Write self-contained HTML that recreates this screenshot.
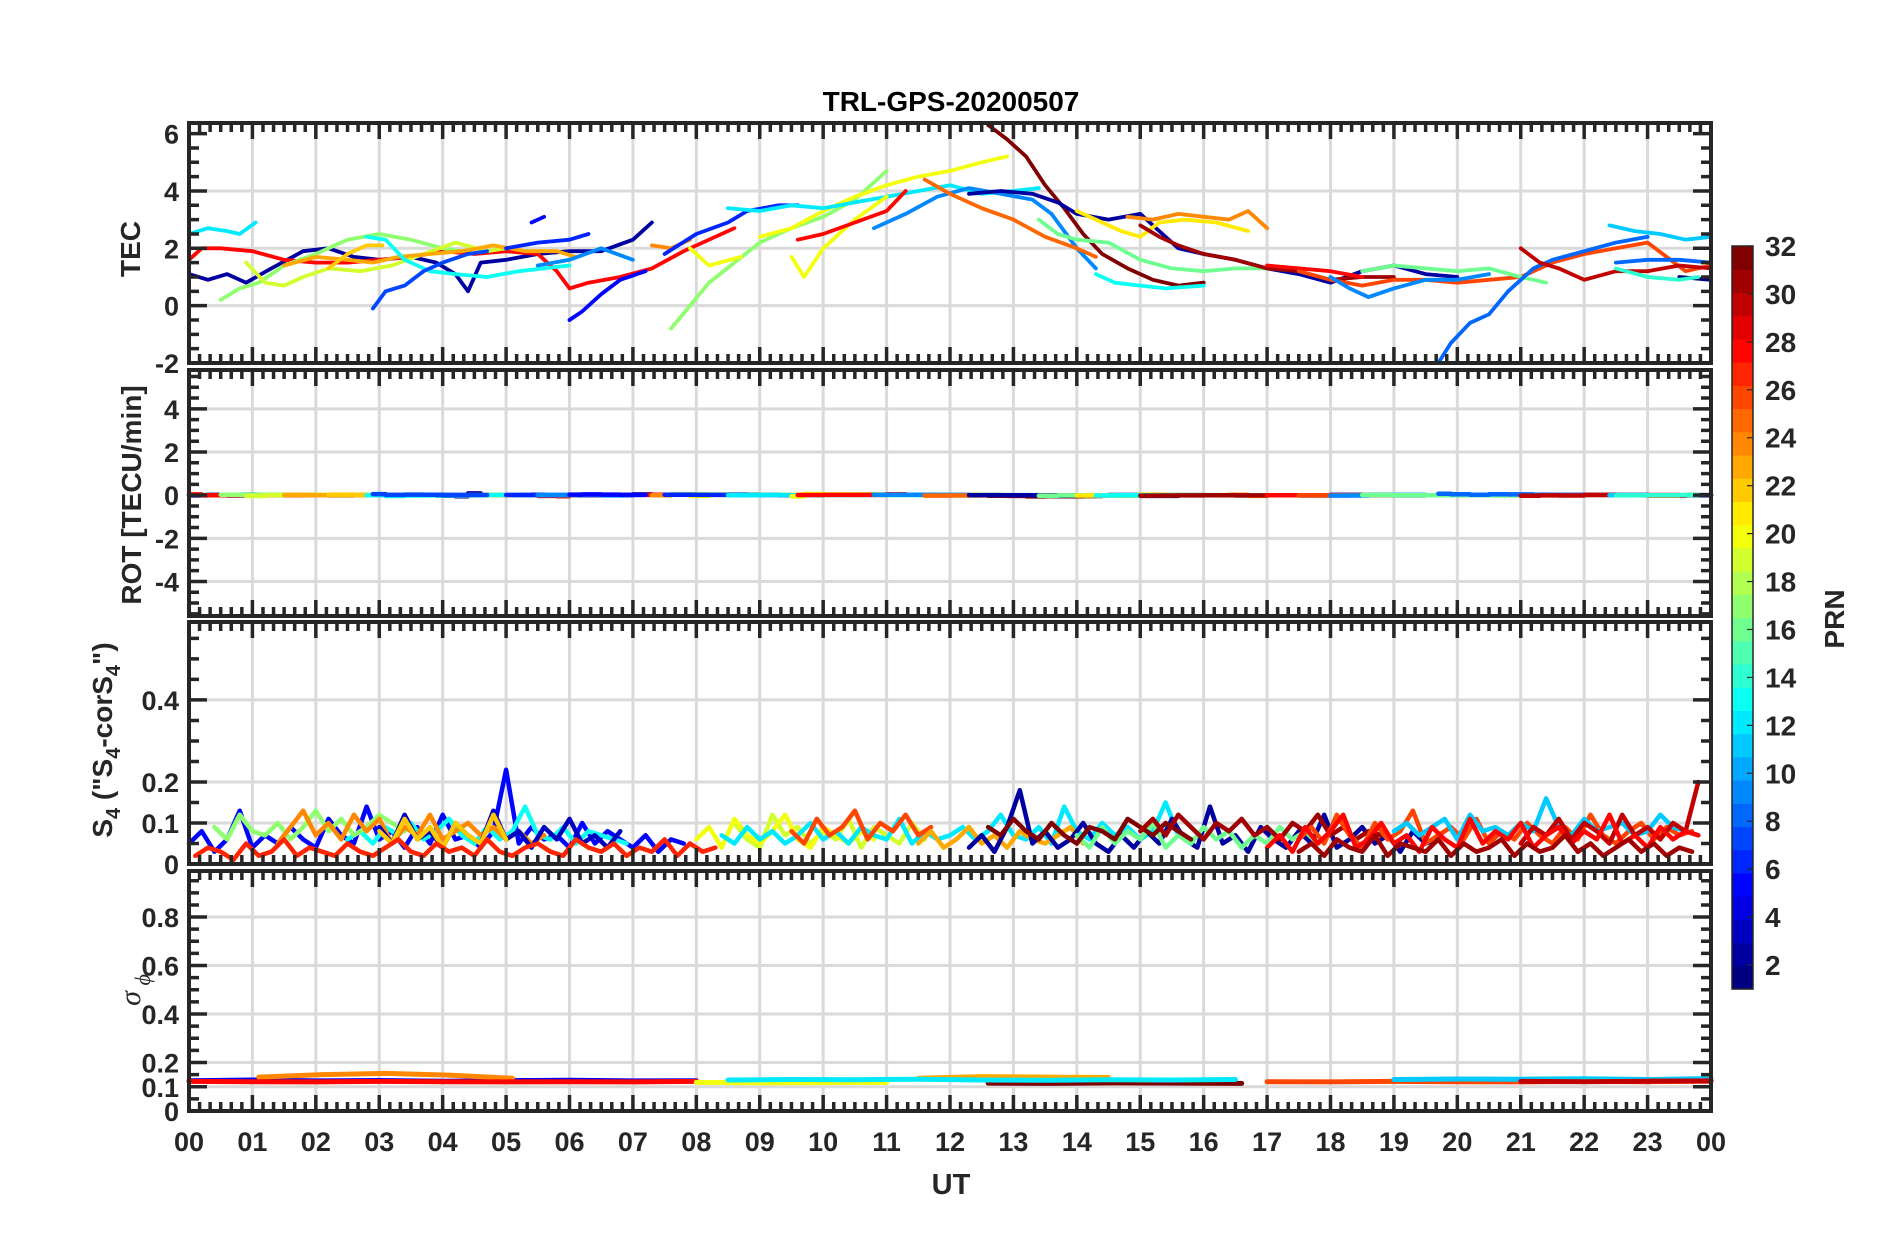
<!DOCTYPE html>
<html><head><meta charset="utf-8"><title>TRL-GPS-20200507</title>
<style>
html,body{margin:0;padding:0;background:#fff;}
svg{display:block;font-family:"Liberation Sans",Arial,sans-serif;}
</style></head>
<body>
<svg id="chart" width="1902" height="1236" viewBox="0 0 1902 1236" xmlns="http://www.w3.org/2000/svg">
<rect x="0" y="0" width="1902" height="1236" fill="#fff"/>
<text x="951" y="111" text-anchor="middle" font-size="28" font-weight="bold" fill="#000">TRL-GPS-20200507</text>
<text x="951" y="1194" text-anchor="middle" font-size="29" font-weight="bold" fill="#262626">UT</text>
<g id="panels"></g>
<g id="cbar"></g>
<text transform="translate(140,249) rotate(-90)" text-anchor="middle" font-size="28" font-weight="bold" fill="#262626">TEC</text>
<text transform="translate(141,495) rotate(-90)" text-anchor="middle" font-size="28" font-weight="bold" fill="#262626">ROT [TECU/min]</text>
<text transform="translate(112,740) rotate(-90)" text-anchor="middle" font-size="28" font-weight="bold" fill="#262626">S<tspan font-size="20" dy="8">4</tspan><tspan dy="-8"> ("S</tspan><tspan font-size="20" dy="8">4</tspan><tspan dy="-8">-corS</tspan><tspan font-size="20" dy="8">4</tspan><tspan dy="-8">")</tspan></text>
<text transform="translate(140,990) rotate(-90)" text-anchor="middle" font-size="30" font-style="italic" font-family="'Liberation Serif',serif" fill="#262626">σ<tspan font-size="22" dy="10"> ϕ</tspan></text>
<text transform="translate(1844,619) rotate(-90)" text-anchor="middle" font-size="28" font-weight="bold" fill="#262626">PRN</text>
</svg>
<script>
// ---------- data ----------
const hourTicks = ["00","01","02","03","04","05","06","07","08","09","10","11","12","13","14","15","16","17","18","19","20","21","22","23","00"];
const tecPrn = [12,2,28,17,19,23,22,13,7,5,6,9,5,24,17,20,20,6,12,20,28,9,25,32,2,16,21,24,13,31,28,26,9,16,8,30,11,8,1,14];
const tecHours = [
[0,0.3,0.6,0.8,1.05],
[0,0.3,0.6,0.9,1.3,1.8,2.2,2.6,3.0,3.5,3.9,4.2,4.4,4.6,5.0,5.5,6.0,6.5,7.0,7.3],
[0,0.2,0.5,1,1.5,2,2.5,3,3.5,4,4.5,5,5.5,5.8,6.0,6.3,6.8,7.3,7.8,8.2,8.6],
[0.5,0.8,1.1,1.5,2,2.5,3,3.5,4,4.3],
[0.9,1.2,1.5,1.8,2.2,2.7,3.2,3.7,4.2,4.7,5.0],
[1.5,2,2.5,2.9,3.3,3.8,4.3,4.8,5.3,5.8,6.1],
[2.2,2.5,2.8,3.05],
[2.8,3.1,3.4,3.8,4.2,4.7,5.2,5.6,6.0],
[2.9,3.1,3.4,3.7,4.0,4.4,4.7],
[5.4,5.6],
[5.0,5.5,6.0,6.3],
[5.5,6,6.5,7.0],
[6.0,6.2,6.5,6.8,7.2],
[7.3,7.6,7.9],
[7.6,7.9,8.2,8.6,9.0,9.5,10,10.5,11],
[7.9,8.2,8.7],
[9.0,9.5,10,10.5,11,11.5,12,12.5,12.9],
[7.5,8.0,8.5,8.8,9.3,9.6],
[8.5,9,9.5,10,10.5,11,11.5,12,12.5,13,13.4],
[9.5,9.7,10,10.5,11],
[9.6,10,10.5,11,11.3],
[10.8,11.3,11.8,12.3,12.8,13.3,13.6,14.0,14.3],
[11.6,12,12.5,13,13.5,14.0,14.3],
[12.6,12.9,13.2,13.5,13.8,14.1,14.4,14.8,15.2,15.6,16],
[12.3,12.8,13.3,13.7,14,14.5,15,15.3,15.6,16,16.5,17,17.5,18,18.5,19,19.5,20],
[13.4,13.7,14,14.5,15,15.5,16,16.5,17],
[14.0,14.3,14.7,15,15.3,15.7,16.2,16.7],
[14.8,15.2,15.6,16,16.4,16.7,17.0],
[14.3,14.6,15,15.4,16],
[15.0,15.3,15.6,16,16.5,17,17.5,18,18.5,19],
[17,17.5,18,18.5],
[17.5,18,18.5,19,19.5,20,20.5,21,21.5,22,22.5,23,23.3,23.6,24],
[18,18.3,18.6,19,19.5,20,20.5],
[18.5,19,19.5,20,20.5,21,21.4],
[19.7,19.9,20.2,20.5,20.8,21.2,21.5,22,22.5,23],
[21,21.3,21.6,22,22.5,23,23.5,24],
[22.4,22.8,23.2,23.6,24],
[22.5,23,23.5,24],
[23.5,24],
[22.5,23,23.5,23.8]
];
const tecValues = [
[2.5,2.7,2.6,2.5,2.9],
[1.1,0.9,1.1,0.8,1.3,1.9,2.0,1.7,1.6,1.7,1.5,1.1,0.5,1.5,1.6,1.8,1.9,1.9,2.3,2.9],
[1.6,2.0,2.0,1.9,1.6,1.5,1.5,1.6,1.7,1.9,1.8,1.9,1.8,1.2,0.6,0.8,1.0,1.3,1.9,2.3,2.7],
[0.2,0.6,0.8,1.4,1.8,2.3,2.5,2.3,2.0,1.9],
[1.5,0.8,0.7,1.0,1.3,1.2,1.4,1.8,2.2,1.9,2.0],
[1.4,1.7,1.6,1.5,1.7,1.8,1.9,2.1,1.9,1.9,1.7],
[1.3,1.8,2.1,2.1],
[2.4,2.3,1.6,1.2,1.1,1.0,1.2,1.3,1.4],
[-0.1,0.5,0.7,1.2,1.5,1.8,1.9],
[2.9,3.1],
[2.0,2.2,2.3,2.5],
[1.4,1.6,2.0,1.6],
[-0.5,-0.2,0.4,0.9,1.2],
[2.1,2.0,2.3],
[-0.8,0.0,0.8,1.5,2.2,2.7,3.1,3.7,4.7],
[2.0,1.4,1.7],
[2.4,2.7,3.3,3.8,4.2,4.5,4.7,5.0,5.2],
[1.8,2.5,2.9,3.3,3.5,3.5],
[3.4,3.3,3.5,3.4,3.6,3.8,4.0,4.2,3.9,4.0,4.1],
[1.7,1.0,2.0,3.0,3.8],
[2.3,2.5,2.9,3.3,4.0],
[2.7,3.2,3.8,4.1,3.9,3.7,3.2,2.0,1.3],
[4.4,3.9,3.4,3.0,2.4,2.0,1.7],
[6.3,5.8,5.2,4.2,3.4,2.5,1.8,1.3,0.9,0.7,0.8],
[3.9,4.0,3.9,3.6,3.2,3.0,3.2,2.6,2.0,1.8,1.6,1.3,1.1,0.8,1.2,1.4,1.1,1.0],
[3.0,2.5,2.3,2.2,1.6,1.3,1.2,1.3,1.3],
[3.3,3.0,2.6,2.4,2.9,3.0,2.9,2.6],
[3.1,3.0,3.2,3.1,3.0,3.3,2.7],
[1.1,0.8,0.7,0.6,0.7],
[2.8,2.4,2.1,1.8,1.6,1.3,1.2,0.9,1.0,1.0],
[1.4,1.3,1.2,1.0],
[1.2,0.9,0.7,0.9,0.9,0.8,0.9,1.0,1.5,1.8,2.0,2.2,1.7,1.2,1.4],
[1.0,0.6,0.3,0.6,0.9,0.9,1.1],
[1.2,1.4,1.3,1.2,1.3,1.0,0.8],
[-2.1,-1.3,-0.6,-0.3,0.5,1.3,1.6,1.9,2.2,2.4],
[2.0,1.5,1.3,0.9,1.2,1.2,1.4,1.3],
[2.8,2.6,2.5,2.3,2.4],
[1.5,1.6,1.6,1.5],
[1.0,0.9],
[1.3,1.0,0.9,1.0]
];
// S4 segments (values in hundredths, sampled every s4Step hours)
const s4Step = 0.2;
const s4Prn = [5,13,17,24,3,22,19,20,12,26,23,2,16,32,31,26,11,30,28,27,31];
const s4Start = [0,2.5,0.4,1.4,3,3.0,8.6,8,8.4,9.5,11.5,12.3,14,12.6,15,17.5,19,21,17,0.1,17.5];
const s4Values = [
[5,8,3,6,13,4,7,5,9,6,4,11,7,5,14,6,8,4,9,5,12,6,7,4,8,23,5,9,6,7,4,10,5,8,6,4,7,3,6,5],
[6,8,5,9,7,10,6,8,11,7,5,9,6,8,14,7,6,9,5,8,7,6,5],
[9,6,12,8,7,10,6,9,13,8,11,7,9,12,10,8],
[5,9,13,7,10,6,12,8,11,5,9,7,12,6,8,10,7,9,6,8,5,7],
[9,5,12,6,8,4,10,7,5,13,6,8,4,9,6,11,5,7,4,8],
[8,5,11,6,9,4,10,7,5,12,6],
[10,6,4,12,7,9,5,8,6,11,4,9,7,5,10,6],
[6,9,4,11,7,5,8,12,6,4,9,7,5,8,6],
[7,5,9,6,8,5,7,10,6,8,5,9,7,6,11,5,8,6,7,9,6,8,12,7,6,9,5,14,8,6,10,7,9,6,8,15,7,6],
[8,5,11,7,9,13,6,10,8,12,7,9],
[5,8,4,6,9,5,7,4,8,6,5,7,9,5],
[4,7,3,9,18,5,8,4,6,10,5,3,7,4,8,5,11,6,4,14,5,7,3,9,6,4,8,5,12,4,6,9,5,7,3,8,5,6],
[7,4,9,5,8,6,10,4,7,5,9,6,8,4,7,5,9,6,8,5],
[9,7,11,8,6,10,7,5,9,8,6,11,9,7,10,8,6],
[8,11,7,12,9,6,10,8,11,7,9,6,10,8,12,7,9,6,8,7],
[6,9,5,12,7,4,10,6,8,13,5,7,9,6,11,5,8,6,10,7,5,9,6,12,7,5,8,10,6,9,7,8],
[8,10,7,9,11,6,12,8,9,7,10,8,16,9,7,11,8,9,10,7,8,12,9,8,7],
[5,9,7,11,6,10,8,5,12,7,9,6,10,8,20],
[4,7,3,9,5,8,12,4,6,10,5,7,3,9,6,4,11,5,8,6,10,4,7,9,5,8,6,12,5,7,4,9,6,8,7],
[2,4,3,1,5,2,3,6,2,4,3,2,5,3,2,4,6,3,2,5,3,4,2,6,3,2,4,5,3,2,6,4,3,5,2,4,3,6,2,5,3,4],
[3,5,2,6,4,3,7,2,5,4,3,6,2,5,3,4,6,2,5,3,4,7,3,5,2,4,6,3,5,2,4,3]
];
// sigma-phi segments (values in thousandths, sampled every sigStep hours)
const sigStep = 1;
const sigPrn = [5,24,28,20,23,32,12,26,11,30];
const sigStart = [0,1.1,0,8,11.5,12.6,8.5,17,19,21];
const sigValues = [
[125,128,124,126,123,125,127,124,125],
[140,150,155,148,135],
[122,121,120,122,121,120,121,120,122],
[118,116,117,118],
[135,142,140,138],
[115,114,116,115,114],
[128,130,129,131,128,127,129,128,130],
[121,120,122,121,120,122,121,123],
[130,132,131,133,130,134],
[122,121,123,124]
];
const cbarTicks = [2,4,6,8,10,12,14,16,18,20,22,24,26,28,30,32];

// ---------- helpers ----------
const NS = "http://www.w3.org/2000/svg";
const X0 = 189, X1 = 1711;
function xs(h){ return X0 + (h/24)*(X1-X0); }
function jet(prn){
  const t = (prn-1)/31;
  const c = v => Math.round(255*Math.max(0,Math.min(1,v)));
  return `rgb(${c(1.5-Math.abs(4*t-3))},${c(1.5-Math.abs(4*t-2))},${c(1.5-Math.abs(4*t-1))})`;
}
function mk(tag, attrs, parent){
  const e = document.createElementNS(NS, tag);
  for (const k in attrs) e.setAttribute(k, attrs[k]);
  parent.appendChild(e);
  return e;
}
const panelsG = document.getElementById('panels');

const panels = [
  {key:'tec', top:123, bot:363, min:-2.0, max:6.37, major:[-2,0,2,4,6], labels:['-2','0','2','4','6'], grid:[0,2,4], minor:0.5},
  {key:'rot', top:370, bot:616, min:-5.6, max:5.8, major:[-4,-2,0,2,4], labels:['-4','-2','0','2','4'], grid:[-4,-2,0,2,4], minor:0.5},
  {key:'s4', top:622, bot:864, min:0, max:0.59, major:[0,0.1,0.2,0.4], labels:['0','0.1','0.2','0.4'], grid:[0.1,0.2,0.4], minor:0.05},
  {key:'sigma', top:871, bot:1111, min:0, max:0.99, major:[0,0.1,0.2,0.4,0.6,0.8], labels:['0','0.1','0.2','0.4','0.6','0.8'], grid:[0.1,0.2,0.4,0.6,0.8], minor:0.05}
];
panels.forEach(p => { p.ys = v => p.bot - (v-p.min)/(p.max-p.min)*(p.bot-p.top); });

function drawFrameBase(p){
  const g = mk('g', {}, panelsG);
  
  
  for (let h=1; h<24; h++){
    const l = mk('line', {x1:xs(h), x2:xs(h), y1:p.top, y2:p.bot, stroke:'#dadada', 'stroke-width':3}, g);
    
    
  }
  p.grid.forEach(v => {
    const l = mk('line', {x1:X0, x2:X1, y1:p.ys(v), y2:p.ys(v), stroke:'#dadada', 'stroke-width':3}, g);
    
    
  });
  const series = mk('g', {}, g);
  
  
  p.g = g; p.series = series;
}
function drawFrameAxes(p){
  const g = mk('g', {}, panelsG);
  
  
  const col = '#262626';
  let d = '';
  for (let i=0; i<=24*6; i++){
    const x = xs(i/6);
    const L = (i%6===0) ? 16 : 9;
    d += `M${x},${p.top}v${L}M${x},${p.bot}v${-L}`;
  }
  const start = Math.ceil(p.min/p.minor-1e-9);
  for (let k=start; k*p.minor<=p.max+1e-9; k++){
    const v = k*p.minor;
    const y = p.ys(v);
    const isMajor = p.major.some(m => Math.abs(m-v)<1e-9);
    const L = isMajor ? 18 : 10;
    d += `M${X0},${y}h${L}M${X1},${y}h${-L}`;
  }
  const t = mk('path', {d:d, stroke:col, 'stroke-width':3.5, fill:'none'}, g);
  
  
  const fr = mk('rect', {x:X0, y:p.top, width:X1-X0, height:p.bot-p.top, fill:'none', stroke:col, 'stroke-width':4}, g);
  
  
  p.major.forEach((v,i) => {
    const tx = mk('text', {x:179, y:p.ys(v)+10, 'text-anchor':'end', 'font-size':27, 'font-weight':'bold', fill:col}, g);
    tx.textContent = p.labels[i];
    
    
  });
}
function polyline(parent, pts, color, w, name){
  const l = mk('polyline', {points:pts.map(q=>q[0].toFixed(1)+','+q[1].toFixed(1)).join(' '), fill:'none', stroke:color, 'stroke-width':w, 'stroke-linejoin':'round', 'stroke-linecap':'round'}, parent);
  
  
}

panels.forEach(drawFrameBase);
const [pTec, pRot, pS4, pSig] = panels;

tecPrn.forEach((prn,i) => {
  const pts = tecHours[i].map((h,j) => [xs(h), pTec.ys(Math.max(pTec.min, Math.min(pTec.max, tecValues[i][j])))]);
  polyline(pTec.series, pts, jet(prn), 3.8, 'tec-line-prn'+prn);
});
tecPrn.forEach((prn,i) => {
  const H = tecHours[i], V = tecValues[i];
  const pts = [];
  for (let j=0; j<H.length-1; j++){
    const r = (V[j+1]-V[j])/((H[j+1]-H[j])*60);
    pts.push([xs(H[j]), pRot.ys(r)]);
    pts.push([xs(H[j+1]), pRot.ys(r)]);
  }
  if (pts.length) polyline(pRot.series, pts, jet(prn), 4.5, 'rot-line-prn'+prn);
});
s4Prn.forEach((prn,i) => {
  const pts = s4Values[i].map((v,j) => [xs(Math.min(24, s4Start[i]+j*s4Step)), pS4.ys(v/100)]);
  polyline(pS4.series, pts, jet(prn), 4.5, 's4-line-prn'+prn);
});
sigPrn.forEach((prn,i) => {
  const pts = sigValues[i].map((v,j) => [xs(Math.min(24, sigStart[i]+j*sigStep)), pSig.ys(v/1000)]);
  polyline(pSig.series, pts, jet(prn), 5, 'sigma-line-prn'+prn);
});

panels.forEach(drawFrameAxes);

hourTicks.forEach((lab,i) => {
  const t = mk('text', {x:xs(i), y:1151, 'text-anchor':'middle', 'font-size':27, 'font-weight':'bold', fill:'#262626'}, panelsG);
  t.textContent = lab;
  
  
});

const cb = document.getElementById('cbar');
const CBX = 1732, CBW = 21, CBT = 246, CBB = 989;
const cy = v => CBB - (v-1)/31*(CBB-CBT);
for (let k=1; k<=32; k++){
  const h = (CBB-CBT)/32;
  const r = mk('rect', {x:CBX, y:CBB-k*h, width:CBW, height:h+0.6, fill:jet(k)}, cb);
  
  
}
const cf = mk('rect', {x:CBX, y:CBT, width:CBW, height:CBB-CBT, fill:'none', stroke:'#262626', 'stroke-width':1.5}, cb);


cbarTicks.forEach(v => {
  const l = mk('line', {x1:CBX+CBW-6, x2:CBX+CBW, y1:cy(v), y2:cy(v), stroke:'#262626', 'stroke-width':1.2}, cb);
  
  
  const t = mk('text', {x:1765, y:cy(v)+10, 'font-size':28, 'font-weight':'bold', fill:'#262626'}, cb);
  t.textContent = v;
  
  
});
</script>
</body></html>
